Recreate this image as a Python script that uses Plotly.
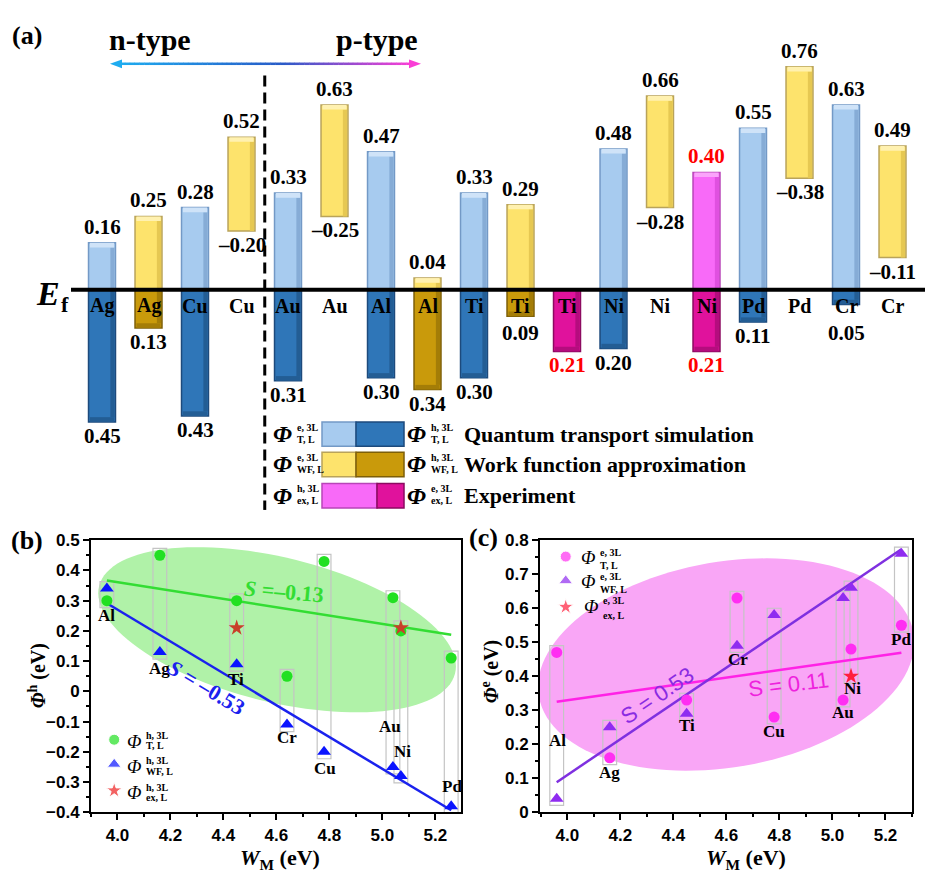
import numpy as np
import plotly.graph_objects as go

W, H = 925, 879
SERIF = "Times New Roman, Liberation Serif, serif"
SANS = "Arial, Liberation Sans, sans-serif"

# ---------------- data: panel (a) ----------------
metals = ["Ag", "Cu", "Au", "Al", "Ti", "Ni", "Pd", "Cr"]
phi_e_T = [0.16, 0.28, 0.33, 0.47, 0.33, 0.48, 0.55, 0.63]
phi_h_T = [0.45, 0.43, 0.31, 0.30, 0.30, 0.20, 0.11, 0.05]
phi_e_WF = [0.25, 0.52, 0.63, 0.04, 0.29, 0.66, 0.76, 0.49]
phi_h_WF = [0.13, -0.20, -0.25, 0.34, 0.09, -0.28, -0.38, -0.11]
ex_metals = ["Ti", "Ni"]
phi_e_ex = [None, 0.40]
phi_h_ex = [0.21, 0.21]

# ---------------- data: panels (b), (c) ----------------
metals_bc = ["Al", "Ag", "Ti", "Cr", "Cu", "Au", "Ni", "Pd"]
W_M = [3.96, 4.16, 4.45, 4.64, 4.78, 5.04, 5.07, 5.26]
h_T_bc = [0.30, 0.45, 0.30, 0.05, 0.43, 0.31, 0.20, 0.11]
h_WF_bc = [0.34, 0.13, 0.09, -0.11, -0.20, -0.25, -0.28, -0.38]
e_T_bc = [0.47, 0.16, 0.33, 0.63, 0.28, 0.33, 0.48, 0.55]
e_WF_bc = [0.04, 0.25, 0.29, 0.49, 0.58, 0.63, 0.66, 0.76]
W_ex_h = [4.45, 5.07]
h_ex_bc = [0.21, 0.21]
W_ex_e = [5.07]
e_ex_bc = [0.40]
slope_labels_b = ["<i>S</i> =–0.13", "<i>S</i> = –0.53"]
slope_labels_c = ["S = 0.53", "S = 0.11"]


def PX(x):
    return x / W


def PY(y):
    return 1 - y / H


annotations = []
shapes = []


def ann(text, x, y, size=20, color="black", family=SERIF, bold=True, xanchor="center",
        yanchor="middle", xref="paper", yref="paper", angle=0, xshift=0, yshift=0):
    annotations.append(dict(text=text, x=x, y=y, xref=xref, yref=yref, showarrow=False,
                            xanchor=xanchor, yanchor=yanchor, textangle=angle,
                            xshift=xshift, yshift=yshift,
                            font=dict(family=family, size=size, color=color,
                                      weight="bold" if bold else "normal")))


def phi_label(xb, yc, ysup, ysub, sup, sub, size=24, ssize=11, bold_phi=True):
    ann("<i>Φ</i>", PX(xb), PY(yc), size=size, xanchor="right", bold=bold_phi)
    ann(sup, PX(xb + 1), PY(ysup), size=ssize, xanchor="left")
    ann(sub, PX(xb + 1), PY(ysub), size=ssize, xanchor="left")


def fmt(v):
    return ("–" if v < 0 else "") + f"{abs(v):.2f}"


fig = go.Figure()

# ---------------- panel (a) bars ----------------
cols = []
for i, m in enumerate(metals):
    cols.append((m, "T", phi_e_T[i], phi_h_T[i]))
    cols.append((m, "WF", phi_e_WF[i], phi_h_WF[i]))
    if m in ex_metals:
        j = ex_metals.index(m)
        cols.append((m, "ex", phi_e_ex[j], phi_h_ex[j]))

style = {
    "T": dict(light="#a7cbef", light_hi="#cfe3f8", light_sh="#86acd6", light_edge="#7399c6",
              dark="#2f76b8", dark_hi="#5a97d0", dark_sh="#235d94", dark_edge="#1d4a7c"),
    "WF": dict(light="#fde36c", light_hi="#fff1b0", light_sh="#e6c852", light_edge="#b9a35a",
               dark="#c99a0b", dark_hi="#dcb53e", dark_sh="#a47d07", dark_edge="#7d5f08"),
    "ex": dict(light="#f86af8", light_hi="#fba4fb", light_sh="#e050e0", light_edge="#b845b8",
               dark="#e0129c", dark_hi="#ec4fb8", dark_sh="#b50c7e", dark_edge="#8c0a60"),
}
BW = 0.58
CAP = 0.016     # bevel cap height (eV units of panel a)
SIDE = 0.09     # bevel side width (column units)


def bar(x, y, base, color, edge=None, width=BW, offset=None):
    kw = dict(x=x, y=y, base=base, width=width, xaxis="x", yaxis="y", showlegend=False, hoverinfo="skip",
              marker=dict(color=color, line=dict(color=edge or color, width=1.5 if edge else 0)))
    if offset is not None:
        kw["offset"] = offset
    fig.add_trace(go.Bar(**kw))


for kind in ["T", "WF", "ex"]:
    st = style[kind]
    ux, ub, uy, lx, lb, ly = [], [], [], [], [], []
    for k, (m, kd, e, h) in enumerate(cols):
        if kd != kind:
            continue
        if e is not None:
            base = max(0.0, -h)
            ux.append(k); ub.append(base); uy.append(e - base)
        if h > 0:
            lx.append(k); lb.append(-h); ly.append(h)
    # upper (light) bars with bevel
    bar(ux, uy, ub, st["light"], st["light_edge"])
    bar(ux, [v - CAP for v in uy], ub, st["light_sh"], width=SIDE, offset=BW / 2 - SIDE - 0.02)
    bar(ux, [CAP] * len(ux), [b + v - CAP for b, v in zip(ub, uy)], st["light_hi"],
        width=BW - 0.06, offset=-(BW - 0.06) / 2)
    # lower (dark) bars with bevel
    bar(lx, ly, lb, st["dark"], st["dark_edge"])
    bar(lx, [v - CAP for v in ly], [b + CAP for b in lb], st["dark_sh"], width=SIDE, offset=BW / 2 - SIDE - 0.02)
    bar(lx, [CAP] * len(lx), lb, st["dark_sh"], width=BW - 0.06, offset=-(BW - 0.06) / 2)

for k, (m, kd, e, h) in enumerate(cols):
    col = "#ff0000" if kd == "ex" else "black"
    if e is not None:
        ann(fmt(e), k, e, size=21, color=col, xref="x", yref="y", yanchor="bottom", yshift=2)
    ylab = min(-h, -0.10) if h > 0 else -h
    ann(fmt(h), k, ylab, size=21, color=col, xref="x", yref="y", yanchor="top", yshift=0)
    ann(m, k, 0, size=20, xref="x", yref="y", yanchor="middle", yshift=-16)

# Fermi level line
shapes.append(dict(type="line", xref="paper", yref="y", x0=PX(71), x1=1, y0=0, y1=0,
                   line=dict(color="black", width=4)))
ann("<i>E</i>", PX(48), PY(291), size=34)
ann("f", PX(65), PY(302), size=22)
# dashed separator between n-type and p-type
shapes.append(dict(type="line", xref="x", yref="paper", x0=3.5, x1=3.5, y0=PY(68), y1=PY(512),
                   line=dict(color="black", width=3, dash="11px,6px")))
# n-type / p-type
ann("n-type", PX(150), PY(31), size=30)
ann("p-type", PX(377), PY(31), size=30)
ann("(a)", PX(27), PY(27), size=26)

# gradient double arrow
stops = [(0.0, (30, 172, 240)), (0.55, (40, 92, 200)), (1.0, (250, 62, 214))]


def grad(t):
    for (t0, c0), (t1, c1) in zip(stops[:-1], stops[1:]):
        if t <= t1:
            f = (t - t0) / (t1 - t0)
            return "rgb(%d,%d,%d)" % tuple(int(c0[i] + f * (c1[i] - c0[i])) for i in range(3))
    return "rgb(%d,%d,%d)" % stops[-1][1]


AY, AX0, AX1 = 56, 110, 421
N = 60
for s in range(N):
    x0 = AX0 + 10 + (AX1 - AX0 - 20) * s / N
    x1 = AX0 + 10 + (AX1 - AX0 - 20) * (s + 1) / N
    shapes.append(dict(type="line", xref="paper", yref="paper", x0=PX(x0), x1=PX(x1) + 0.0005,
                       y0=PY(AY), y1=PY(AY), line=dict(color=grad((s + 0.5) / N), width=2.5)))
shapes.append(dict(type="path", xref="paper", yref="paper",
                   path=f"M {PX(AX0)},{PY(AY)} L {PX(AX0+12)},{PY(AY-4.5)} L {PX(AX0+12)},{PY(AY+4.5)} Z",
                   fillcolor=grad(0), line=dict(width=0)))
shapes.append(dict(type="path", xref="paper", yref="paper",
                   path=f"M {PX(AX1)},{PY(AY)} L {PX(AX1-12)},{PY(AY-4.5)} L {PX(AX1-12)},{PY(AY+4.5)} Z",
                   fillcolor=grad(1), line=dict(width=0)))

# legend of panel (a)
leg_rows = [
    (422, 447, 356, "T", ("e, 3L", "T, L"), ("h, 3L", "T, L"), "Quantum transport simulation"),
    (453, 478, 356, "WF", ("e, 3L", "WF, L"), ("h, 3L", "WF, L"), "Work function approximation"),
    (485, 510, 377, "ex", ("h, 3L", "ex, L"), ("e, 3L", "ex, L"), "Experiment"),
]
for (y0, y1, xs, kind, lab_l, lab_r, txt) in leg_rows:
    st = style[kind]
    shapes.append(dict(type="rect", xref="paper", yref="paper", x0=PX(322), x1=PX(xs),
                       y0=PY(y1), y1=PY(y0), fillcolor=st["light"], line=dict(color=st["light_edge"], width=1.5)))
    shapes.append(dict(type="rect", xref="paper", yref="paper", x0=PX(xs), x1=PX(404),
                       y0=PY(y1), y1=PY(y0), fillcolor=st["dark"], line=dict(color=st["dark_edge"], width=1.5)))
    yc = (y0 + y1) / 2
    phi_label(294, yc, yc - 7, yc + 5, lab_l[0], lab_l[1], ssize=10)
    phi_label(428, yc, yc - 7, yc + 5, lab_r[0], lab_r[1], ssize=10)
    ann(txt, PX(462), PY(yc), size=22, xanchor="left")

# ---------------- panels (b) and (c) ----------------
PAD_X = 0.026


def ellipse_path(cx, cy, mx, my, nx, ny, n=120):
    pts = []
    for t in np.linspace(0, 2 * np.pi, n, endpoint=False):
        pts.append((cx + mx * np.cos(t) + nx * np.sin(t), cy + my * np.cos(t) + ny * np.sin(t)))
    return "M " + " L ".join(f"{x:.5f},{y:.5f}" for x, y in pts) + " Z"


# panel (b)
shapes.append(dict(type="path", xref="x2", yref="y2", layer="below",
                   path=ellipse_path(4.6026, 0.2039, 0.6717, -0.1456, -0.0683, -0.2314),
                   fillcolor="#b0f2a8", line=dict(width=0)))
for i, m in enumerate(metals_bc):
    vals = [h_T_bc[i], h_WF_bc[i]] + [h_ex_bc[j] for j, w in enumerate(W_ex_h) if w == W_M[i]]
    shapes.append(dict(type="rect", xref="x2", yref="y2", layer="below",
                       x0=W_M[i] - PAD_X, x1=W_M[i] + PAD_X, y0=min(vals) - 0.023, y1=max(vals) + 0.023,
                       line=dict(color="#c4c4c4", width=1.2)))
# panel (c)
shapes.append(dict(type="path", xref="x3", yref="y3", layer="below",
                   path=ellipse_path(4.599, 0.4345, 0.706, 0.095, 0.0687, -0.2976),
                   fillcolor="#f9a6f6", line=dict(width=0)))
for i, m in enumerate(metals_bc):
    vals = [e_T_bc[i], e_WF_bc[i]] + [e_ex_bc[j] for j, w in enumerate(W_ex_e) if w == W_M[i]]
    shapes.append(dict(type="rect", xref="x3", yref="y3", layer="below",
                       x0=W_M[i] - PAD_X, x1=W_M[i] + PAD_X, y0=min(vals) - 0.02, y1=max(vals) + 0.02,
                       line=dict(color="#c4c4c4", width=1.2)))


def fit_line(x, y, color, xa, ya):
    p = np.polyfit(x, y, 1)
    xx = np.array([min(x), max(x)])
    fig.add_trace(go.Scatter(x=xx, y=np.polyval(p, xx), mode="lines", xaxis=xa, yaxis=ya,
                             line=dict(color=color, width=2.5), showlegend=False, hoverinfo="skip"))


GREEN, BLUE = "#22e022", "#0a14ff"
MAG, PURP = "#ff2ef2", "#8f2cf0"
fit_line(W_M, h_T_bc, "#33dd33", "x2", "y2")
fit_line(W_M, h_WF_bc, "#1a22ee", "x2", "y2")
fig.add_trace(go.Scatter(x=W_M, y=h_T_bc, mode="markers", xaxis="x2", yaxis="y2",
                         marker=dict(symbol="circle", size=11, color=GREEN), showlegend=False))
fig.add_trace(go.Scatter(x=W_M, y=h_WF_bc, mode="markers", xaxis="x2", yaxis="y2",
                         marker=dict(symbol="triangle-up", size=12, color=BLUE), showlegend=False))
fig.add_trace(go.Scatter(x=W_ex_h, y=h_ex_bc, mode="markers", xaxis="x2", yaxis="y2",
                         marker=dict(symbol="star", size=12, color="#c8402a"), showlegend=False))

fit_line(W_M, e_T_bc, "#ff22e6", "x3", "y3")
fit_line(W_M, e_WF_bc, "#7f30e0", "x3", "y3")
fig.add_trace(go.Scatter(x=W_M, y=e_T_bc, mode="markers", xaxis="x3", yaxis="y3",
                         marker=dict(symbol="circle", size=11, color=MAG), showlegend=False))
fig.add_trace(go.Scatter(x=W_M, y=e_WF_bc, mode="markers", xaxis="x3", yaxis="y3",
                         marker=dict(symbol="triangle-up", size=12, color=PURP), showlegend=False))
fig.add_trace(go.Scatter(x=W_ex_e, y=e_ex_bc, mode="markers", xaxis="x3", yaxis="y3",
                         marker=dict(symbol="star", size=12, color="#ff1f3c"), showlegend=False))

# legend keys (b) and (c)
fig.add_trace(go.Scatter(x=[3.9876] * 3, y=[-0.160, -0.241, -0.328], mode="markers", xaxis="x2", yaxis="y2",
                         marker=dict(symbol=["circle", "triangle-up", "star"], size=[11, 12, 12],
                                     color=[GREEN, BLUE, "#ee2020"]), showlegend=False, hoverinfo="skip"))
fig.add_trace(go.Scatter(x=[3.994] * 3, y=[0.752, 0.681, 0.604], mode="markers", xaxis="x3", yaxis="y3",
                         marker=dict(symbol=["circle", "triangle-up", "star"], size=[11, 12, 12],
                                     color=[MAG, PURP, "#ff1f3c"]), showlegend=False, hoverinfo="skip"))
phi_label(143, 749, 742.5, 752.5, "h, 3L", "T, L", size=19, ssize=10, bold_phi=False)
phi_label(143, 774, 768, 779, "h, 3L", "WF, L", size=19, ssize=10, bold_phi=False)
phi_label(143, 801, 795.5, 806, "h, 3L", "ex, L", size=19, ssize=10, bold_phi=False)
phi_label(597, 561, 555, 568.5, "e, 3L", "T, L", size=19, ssize=10, bold_phi=False)
phi_label(597, 585, 580, 593.5, "e, 3L", "WF, L", size=19, ssize=10, bold_phi=False)
phi_label(600, 611, 605, 619.5, "e, 3L", "ex, L", size=19, ssize=10, bold_phi=False)

# metal labels near points
lab_b = {"Al": (3.96, 0.25), "Ag": (4.157, 0.076), "Ti": (4.448, 0.04), "Cr": (4.639, -0.154),
         "Cu": (4.784, -0.254), "Au": (5.029, -0.115), "Ni": (5.077, -0.199), "Pd": (5.262, -0.316)}
lab_c = {"Al": (3.962, 0.212), "Ag": (4.159, 0.118), "Ti": (4.453, 0.254), "Cr": (4.645, 0.449),
         "Cu": (4.78, 0.238), "Au": (5.039, 0.2935), "Ni": (5.077, 0.3626), "Pd": (5.258, 0.509)}
for m, (x, y) in lab_b.items():
    ann(m, x, y, size=17, xref="x2", yref="y2")
for m, (x, y) in lab_c.items():
    ann(m, x, y, size=17, xref="x3", yref="y3")

ann(slope_labels_b[0], 4.628, 0.332, size=22, color="#33dd33", xref="x2", yref="y2", angle=5)
ann(slope_labels_b[1], 4.337, 0.0136, size=22, color="#1a22ee", xref="x2", yref="y2", angle=31)
ann(slope_labels_c[0], 4.34, 0.343, size=22, color="#8a2be2", family=SANS, bold=False, xref="x3", yref="y3", angle=-34)
ann(slope_labels_c[1], 4.834, 0.377, size=22, color="#ee22dd", family=SANS, bold=False, xref="x3", yref="y3", angle=-7)

ann("(b)", PX(27), PY(543), size=26)
ann("(c)", PX(483), PY(540), size=26)
ann("<i>Φ</i><sup>h</sup> (eV)", PX(37), PY(682), size=20, angle=-90)
ann("<i>Φ</i><sup>e</sup> (eV)", PX(490), PY(677), size=20, angle=-90)
ann("<i>W</i><sub>M</sub> (eV)", PX(280), PY(869), size=22)
ann("<i>W</i><sub>M</sub> (eV)", PX(746), PY(869), size=22)

tickfont = dict(family=SANS, size=17, color="black", weight="bold")
axis_common = dict(showline=True, linewidth=2, linecolor="black", mirror=True, ticks="outside",
                   ticklen=6, tickwidth=2, tickcolor="black", showgrid=False, zeroline=False,
                   tickfont=tickfont, fixedrange=True)
yb_vals = [round(v, 1) for v in np.arange(-0.4, 0.51, 0.1)]
yc_vals = [round(v, 1) for v in np.arange(0.0, 0.81, 0.1)]


def ytext(v):
    return "0" if v == 0 else ("−" if v < 0 else "") + f"{abs(v):.1f}"


fig.update_layout(
    width=W, height=H, margin=dict(l=0, r=0, t=0, b=0),
    paper_bgcolor="white", plot_bgcolor="white", showlegend=False, barmode="overlay",
    xaxis=dict(domain=[0, 1], range=[-102 / 46.5, (W - 102) / 46.5], visible=False, fixedrange=True, anchor="y"),
    yaxis=dict(domain=[PY(520), 1], range=[(287 - 520) / 300, 287 / 300], visible=False, fixedrange=True, anchor="x"),
    xaxis2=dict(domain=[PX(91), PX(461)], range=[3.90, 5.297], anchor="y2", dtick=0.2, tick0=4.0,
                tickformat=".1f", minor=dict(dtick=0.1, ticks="outside", ticklen=3, tickwidth=1.5, tickcolor="black"),
                **axis_common),
    yaxis2=dict(domain=[PY(821), PY(543)], range=[-0.4, 0.5], anchor="x2", tickvals=yb_vals,
                ticktext=[ytext(v) for v in yb_vals],
                minor=dict(dtick=0.05, ticks="outside", ticklen=3, tickwidth=1.5, tickcolor="black"),
                **axis_common),
    xaxis3=dict(domain=[PX(540), PX(912)], range=[3.897, 5.30], anchor="y3", dtick=0.2, tick0=4.0,
                tickformat=".1f", minor=dict(dtick=0.1, ticks="outside", ticklen=3, tickwidth=1.5, tickcolor="black"),
                **axis_common),
    yaxis3=dict(domain=[PY(821), PY(543)], range=[0, 0.8], anchor="x3", tickvals=yc_vals,
                ticktext=[ytext(v) for v in yc_vals],
                minor=dict(dtick=0.05, ticks="outside", ticklen=3, tickwidth=1.5, tickcolor="black"),
                **axis_common),
    shapes=shapes, annotations=annotations,
)

fig.write_html("out.html", config={"displayModeBar": False},
               post_script="document.body.style.margin='0px';document.body.style.overflow='hidden';")
